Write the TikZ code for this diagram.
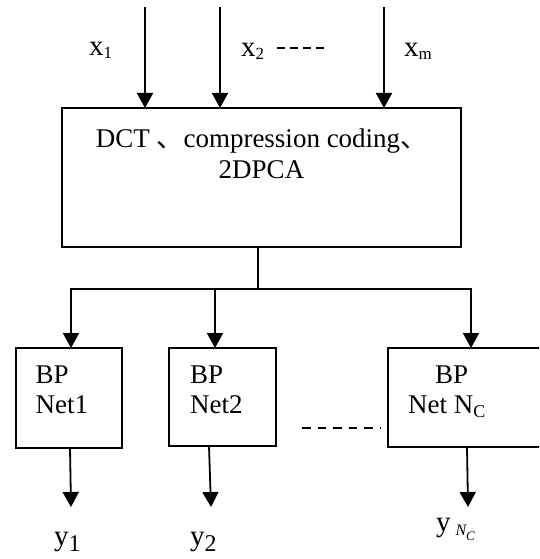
\documentclass[tikz,border=0pt]{standalone}
\usepackage{fontspec}
\setmainfont{Liberation Serif}
\newfontfamily\cjkfont{Noto Sans CJK SC}
\usetikzlibrary{arrows.meta}

% upright lowered subscripts for the plain-text labels
\newcommand{\lsub}[1]{\raisebox{-3pt}{\fontsize{17}{17}\selectfont #1}}
\newcommand{\osub}[1]{\raisebox{-6.5pt}{\fontsize{24}{24}\selectfont #1}}

\begin{document}
\begin{tikzpicture}[x=1pt,y=-1pt,
  box/.style={draw, line width=1.8pt, inner sep=0pt, outer sep=0pt},
  conn/.style={line width=1.8pt},
  arr/.style={conn, -{Triangle[width=16pt,length=15pt]}},
  dotsa/.style={line width=1.8pt, dash pattern=on 8pt off 5pt},
  dotsb/.style={line width=1.8pt, dash pattern=on 8.6pt off 6.9pt},
  lbl/.style={inner sep=0pt, anchor=base west, font=\fontsize{29}{33}\selectfont},
  txt/.style={inner sep=0pt, anchor=base west, font=\fontsize{27}{31}\selectfont}]
\useasboundingbox (0,0) rectangle (539,559);

% preprocessing block
\node[box, minimum width=399pt, minimum height=139pt] (main) at (261.5,177.5) {};
\node[txt, anchor=base] (m1) at (261.5,147) {DCT {\cjkfont 、}compression coding{\cjkfont 、}};
\node[txt, anchor=base] (m2) at (261.5,178) {2DPCA};

% BP networks
\node[box, minimum width=106pt, minimum height=100pt] (box1) at (69,398) {};
\node[box, minimum width=107pt, minimum height=98pt] (box2) at (222.5,397) {};
\begin{scope}
  \clip (0,0) rectangle (539,559);
  \node[box, minimum width=166pt, minimum height=99pt] (box3) at (471,397.5) {};
\end{scope}
\node[txt] (b1a) at (35.5,383) {BP};
\node[txt] (b1b) at (35.5,413) {Net1};
\node[txt] (b2a) at (190,383) {BP};
\node[txt] (b2b) at (190,413) {Net2};
\node[txt] (b3a) at (435,383) {BP};
\node[txt] (b3b) at (408,413) {Net N\raisebox{-4pt}{\fontsize{18}{18}\selectfont C}};

% inputs
\coordinate (in1) at (145,7);
\coordinate (in2) at (220,7);
\coordinate (inm) at (384,7);
\draw[arr] (in1) -- (in1 |- main.north);
\draw[arr] (in2) -- (in2 |- main.north);
\draw[arr] (inm) -- (inm |- main.north);
\node[lbl] (lx1) at (89,56) {x\lsub{1}};
\node[lbl] (lx2) at (241,57) {x\lsub{2}};
\node[lbl] (lxm) at (404,57) {x\lsub{m}};
\coordinate (da) at (277,48);
\coordinate (db) at (327,48);
\draw[dotsa] (da) -- (db);

% distribution to the networks
\coordinate (hub) at (258,289);
\coordinate (brl) at (71,289);
\coordinate (brm) at (215,289);
\coordinate (brr) at (471,289);
\draw[conn] (main.south -| hub) -- (hub);
\draw[arr] (hub) -| (brl |- box1.north);
\draw[arr] (hub) -| (brr |- box3.north);
\draw[arr] (brm) -- (brm |- box2.north);

% dashed gap between networks
\coordinate (dc) at (302,428);
\coordinate (dd) at (381,428);
\draw[dotsb] (dc) -- (dd);

% outputs
\coordinate (t1) at (71,507);
\coordinate (t2) at (211,507);
\coordinate (t3) at (468,507);
\draw[arr] ([xshift=1pt]box1.south) -- (t1);
\draw[arr] ([xshift=-13.5pt]box2.south) -- (t2);
\draw[arr] ([xshift=-4pt]box3.south) -- (t3);
\node[lbl] (ly1) at (54,545) {y\osub{1}};
\node[lbl] (ly2) at (190,545) {y\osub{2}};
\node[lbl] (lyn) at (436,531) {y\,\raisebox{-4pt}{\fontsize{16}{16}\selectfont\itshape N\raisebox{-5pt}{\fontsize{13}{13}\selectfont C}}};
\end{tikzpicture}
\end{document}
